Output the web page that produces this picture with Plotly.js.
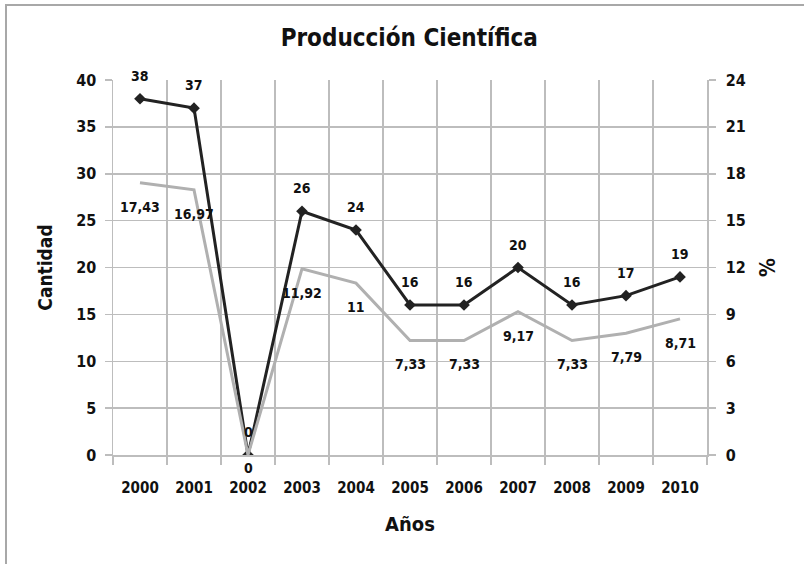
<!DOCTYPE html>
<html>
<head>
<meta charset="utf-8">
<script src="https://cdn.plot.ly/plotly-3.0.1.min.js"></script>
<style>
  html, body { margin: 0; padding: 0; background: #fff; }
  #wrap { position: relative; width: 804px; height: 564px; overflow: hidden; }
  #frame { position: absolute; left: 5px; top: 4px; width: 805px; height: 570px;
           border-left: 2px solid #a8a8a8; border-top: 2px solid #a8a8a8; pointer-events: none; z-index: 5; }
  #chart { position: absolute; left: 0; top: 0; width: 804px; height: 564px; }
  #chart text { font-stretch: condensed !important; }
</style>
</head>
<body>
<div id="wrap">
  <div id="chart"></div>
  <div id="frame"></div>
</div>
<script>
const years = ['2000','2001','2002','2003','2004','2005','2006','2007','2008','2009','2010'];
const cantidad = [38, 37, 0, 26, 24, 16, 16, 20, 16, 17, 19];
const porcentaje = [17.43, 16.97, 0, 11.92, 11, 7.33, 7.33, 9.17, 7.33, 7.79, 8.71];
const leftTicks = [0, 5, 10, 15, 20, 25, 30, 35, 40];
const rightTicks = [0, 3, 6, 9, 12, 15, 18, 21, 24];

const FONT = '"DejaVu Sans Condensed", "DejaVu Sans", sans-serif';
const fmt = v => String(v).replace('.', ',');

const traceCount = {
  x: years, y: cantidad, type: 'scatter', mode: 'lines+markers', name: 'Cantidad',
  line: {color: '#222222', width: 3},
  marker: {symbol: 'diamond', size: 9, color: '#222222'},
  yaxis: 'y', hoverinfo: 'x+y'
};
const tracePct = {
  x: years, y: porcentaje, type: 'scatter', mode: 'lines', name: '%',
  line: {color: '#b0b0b0', width: 3},
  yaxis: 'y2', hoverinfo: 'x+y'
};

const lblFont = {family: FONT, size: 14, color: '#111', weight: 'bold'};
const annotations = [];
years.forEach((yr, i) => {
  annotations.push({x: i, y: cantidad[i], xref: 'x', yref: 'y', text: fmt(cantidad[i]),
    showarrow: false, yshift: 23, font: lblFont});
  annotations.push({x: i, y: porcentaje[i], xref: 'x', yref: 'y2', text: fmt(porcentaje[i]),
    showarrow: false, yshift: porcentaje[i] === 0 ? -13 : -24, font: lblFont});
});

const gridCol = '#bdbdbd';
const tickFont = {family: FONT, size: 15, color: '#111', weight: 'bold'};
const yTickFont = {family: FONT, size: 16, color: '#111', weight: 'bold'};
const layout = {
  width: 804, height: 564,
  margin: {l: 113, r: 97, t: 80, b: 109},
  paper_bgcolor: '#ffffff', plot_bgcolor: '#ffffff',
  showlegend: false,
  font: {family: FONT, color: '#111', size: 16, weight: 'bold'},
  title: {text: 'Producción Científica', font: {family: FONT, size: 24, color: '#111', weight: 'bold'},
          x: 0.509, xanchor: 'center', y: 0.933, yanchor: 'middle', yref: 'container'},
  xaxis: {
    type: 'category', range: [-0.5, 10.5], tickson: 'boundaries',
    showgrid: true, gridcolor: gridCol, gridwidth: 1.5,
    showline: true, linecolor: gridCol, linewidth: 1.5,
    ticks: 'outside', ticklen: 8, tickcolor: gridCol, tickwidth: 1.5,
    ticklabelstandoff: 18,
    tickfont: tickFont,
    title: {text: 'Años', font: {family: FONT, size: 20, color: '#111', weight: 'bold'}, standoff: 21},
    fixedrange: true
  },
  yaxis: {
    range: [0, 40], tickvals: leftTicks, ticktext: leftTicks.map(String),
    showgrid: true, gridcolor: gridCol, gridwidth: 1.5, zeroline: false,
    showline: true, linecolor: gridCol, linewidth: 1.5,
    ticks: 'outside', ticklen: 7, tickcolor: gridCol, tickwidth: 1.5,
    ticklabelstandoff: 5,
    tickfont: yTickFont,
    title: {text: 'Cantidad', font: {family: FONT, size: 19, color: '#111', weight: 'bold'}, standoff: 18},
    fixedrange: true
  },
  yaxis2: {
    range: [0, 24], tickvals: rightTicks, ticktext: rightTicks.map(String),
    overlaying: 'y', side: 'right', showgrid: false, zeroline: false,
    showline: true, linecolor: gridCol, linewidth: 1.5,
    ticks: 'outside', ticklen: 7, tickcolor: gridCol, tickwidth: 1.5,
    ticklabelstandoff: 7,
    tickfont: yTickFont,
    title: {text: '%', font: {family: FONT, size: 21, color: '#111', weight: 'bold'}, standoff: 15},
    fixedrange: true
  },
  annotations: annotations
};

Plotly.newPlot('chart', [tracePct, traceCount], layout, {displayModeBar: false, staticPlot: true});
</script>
</body>
</html>
